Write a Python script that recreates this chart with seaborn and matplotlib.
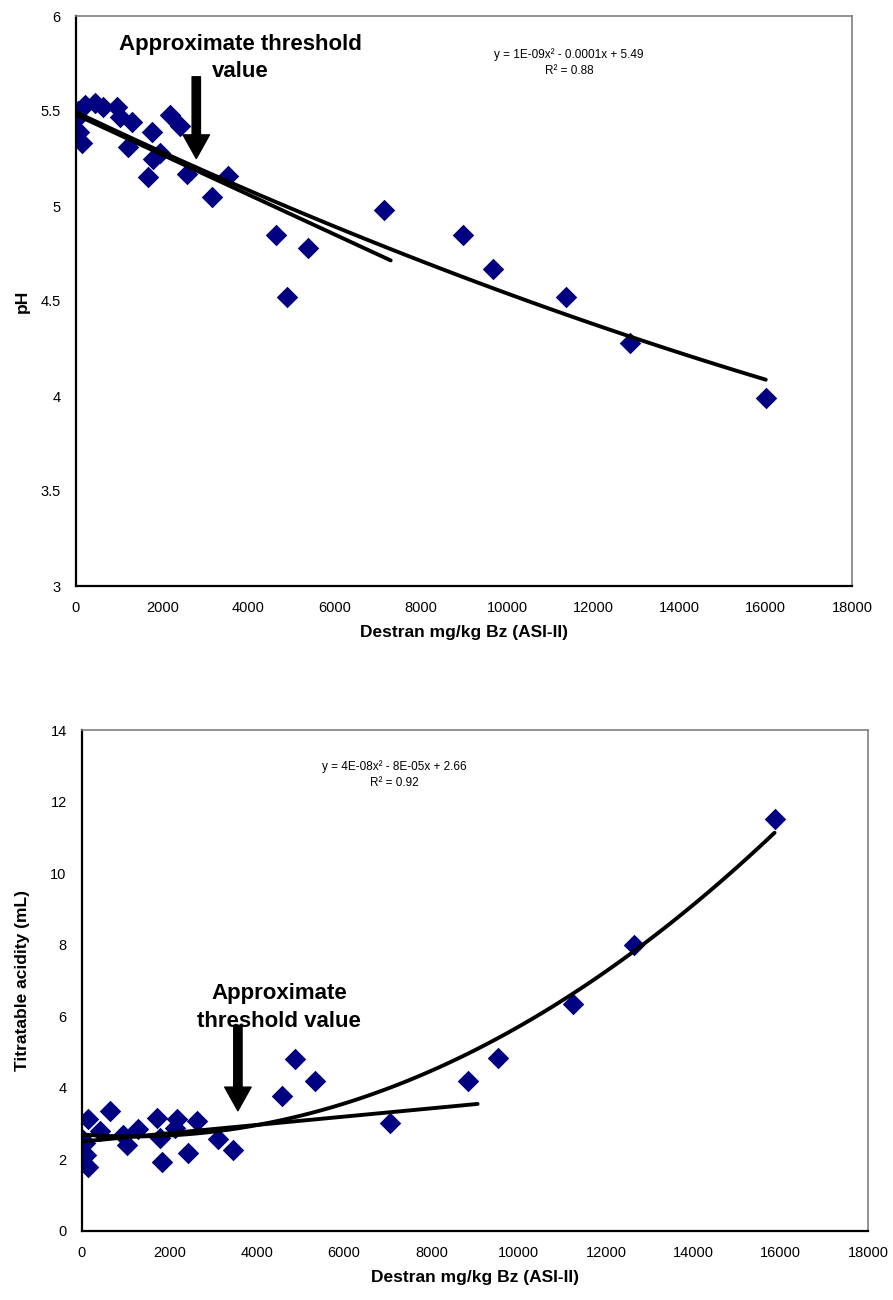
import numpy as np
import pandas as pd
import matplotlib
matplotlib.use("Agg")
import matplotlib.pyplot as plt
import seaborn as sns

# ---------------- data ----------------
ph_dextran = [50, 50, 80, 130, 210, 440, 630, 950, 1020, 1300, 1210, 1770, 1670, 1790,
              1950, 2190, 2420, 2580, 3160, 3530, 4630, 4900, 5370, 7140, 8980, 9670,
              11370, 12840, 16000]
ph_values = [5.50, 5.47, 5.39, 5.33, 5.53, 5.54, 5.52, 5.52, 5.47, 5.44, 5.31, 5.39, 5.15, 5.25,
             5.28, 5.48, 5.42, 5.17, 5.05, 5.16, 4.85, 4.52, 4.78, 4.98, 4.85, 4.67,
             4.52, 4.28, 3.99]

ta_dextran = [140, 640, 0, 60, 100, 140, 410, 940, 1030, 1280, 1710, 1790, 1830, 2170,
              2130, 2430, 2630, 3110, 3460, 4580, 4870, 5330, 7050, 8830, 9520,
              11240, 12650, 15860]
ta_values = [3.14, 3.36, 2.58, 2.45, 2.11, 1.78, 2.80, 2.67, 2.39, 2.86, 3.17, 2.61, 1.92, 3.14,
             2.89, 2.17, 3.08, 2.58, 2.25, 3.78, 4.81, 4.19, 3.03, 4.19, 4.83,
             6.33, 8.00, 11.52]

# threshold-region linear trend (intercept, slope, x-range)
ph_lin = [5.48, -0.000105, 0, 7300]
ta_lin = [2.50, 0.000116, 0, 9060]

ph_eq = ["y = 1E-09x² - 0.0001x + 5.49", "R² = 0.88"]
ta_eq = ["y = 4E-08x² - 8E-05x + 2.66", "R² = 0.92"]
ph_yticks = [3, 3.5, 4, 4.5, 5, 5.5, 6]
ph_ylabels = ["3", "3.5", "4", "4.5", "5", "5.5", "6"]
ta_yticks = [0, 2, 4, 6, 8, 10, 12, 14]
x_ticks = [0, 2000, 4000, 6000, 8000, 10000, 12000, 14000, 16000, 18000]

xlabel = "Destran mg/kg Bz (ASI-II)"

# ---------------- style ----------------
sns.set_style("white")
plt.rcParams["font.family"] = ["Liberation Sans", "DejaVu Sans"]
for k in ("text.color", "axes.labelcolor", "xtick.color", "ytick.color"):
    plt.rcParams[k] = "black"
MARK = "#000080"

fig = plt.figure(figsize=(8.93, 13.0), dpi=100)
ax1 = fig.add_axes([76 / 893, 1 - 586 / 1300, (852 - 76) / 893, (586 - 16) / 1300])
ax2 = fig.add_axes([82 / 893, 1 - 1231 / 1300, (868 - 82) / 893, (1231 - 730) / 1300])

df1 = pd.DataFrame({"x": ph_dextran, "y": ph_values})
df2 = pd.DataFrame({"x": ta_dextran, "y": ta_values})


def draw(ax, df, lin, ylim, yticks, ylabels, ylab, left_px, width_px):
    sns.scatterplot(data=df, x="x", y="y", ax=ax, marker="D", s=120, color=MARK,
                    edgecolor=MARK, linewidth=0, zorder=2)
    sns.regplot(data=df, x="x", y="y", ax=ax, order=2, ci=None, scatter=False,
                truncate=True, line_kws=dict(color="black", lw=2.8, zorder=3))
    lx = np.linspace(lin[2], lin[3], 50)
    sns.lineplot(x=lx, y=lin[0] + lin[1] * lx, ax=ax, color="black", lw=2.8, zorder=3)
    ax.set_xlim(0, 18000)
    ax.set_ylim(*ylim)
    ax.set_xticks(x_ticks)
    ax.set_xticklabels([str(t) for t in x_ticks], fontsize=10.5)
    ax.set_yticks(yticks)
    ax.set_yticklabels(ylabels, fontsize=10.5)
    ax.tick_params(axis="x", direction="in", length=5, width=1.2, pad=11)
    ax.tick_params(axis="y", direction="out", length=5, width=1.2, pad=6)
    for s in ("left", "bottom"):
        ax.spines[s].set_color("black")
        ax.spines[s].set_linewidth(1.6)
    for s in ("top", "right"):
        ax.spines[s].set_color("#808080")
        ax.spines[s].set_linewidth(1.2)
    ax.set_xlabel(xlabel, fontsize=12.5, fontweight="bold", labelpad=7)
    ax.set_ylabel(ylab, fontsize=12.5, fontweight="bold")
    ax.yaxis.set_label_coords((30 - left_px) / width_px, 0.5)


draw(ax1, df1, ph_lin, (3, 6), ph_yticks, ph_ylabels, "pH", 76, 776)
draw(ax2, df2, ta_lin, (0, 14), ta_yticks, [str(t) for t in ta_yticks],
     "Titratable acidity (mL)", 82, 786)

arrow = dict(facecolor="black", edgecolor="black", width=6, headwidth=19, headlength=17)

# top annotations
ax1.text(3805, 5.78, "Approximate threshold\nvalue", ha="center", va="center",
         fontsize=16, fontweight="bold", linespacing=1.35)
ax1.annotate("", xy=(2790, 5.25), xytext=(2790, 5.68), arrowprops=arrow)
ax1.text(11440, 5.755, ph_eq[0] + "\n" + ph_eq[1], ha="center", va="center",
         fontsize=8.5, linespacing=1.45)

# bottom annotations
ax2.text(4510, 6.25, "Approximate\nthreshold value", ha="center", va="center",
         fontsize=16, fontweight="bold", linespacing=1.45)
ax2.annotate("", xy=(3570, 3.36), xytext=(3570, 5.75), arrowprops=arrow)
ax2.text(7160, 12.76, ta_eq[0] + "\n" + ta_eq[1], ha="center", va="center",
         fontsize=8.5, linespacing=1.45)

fig.savefig("out.png", dpi=100)
